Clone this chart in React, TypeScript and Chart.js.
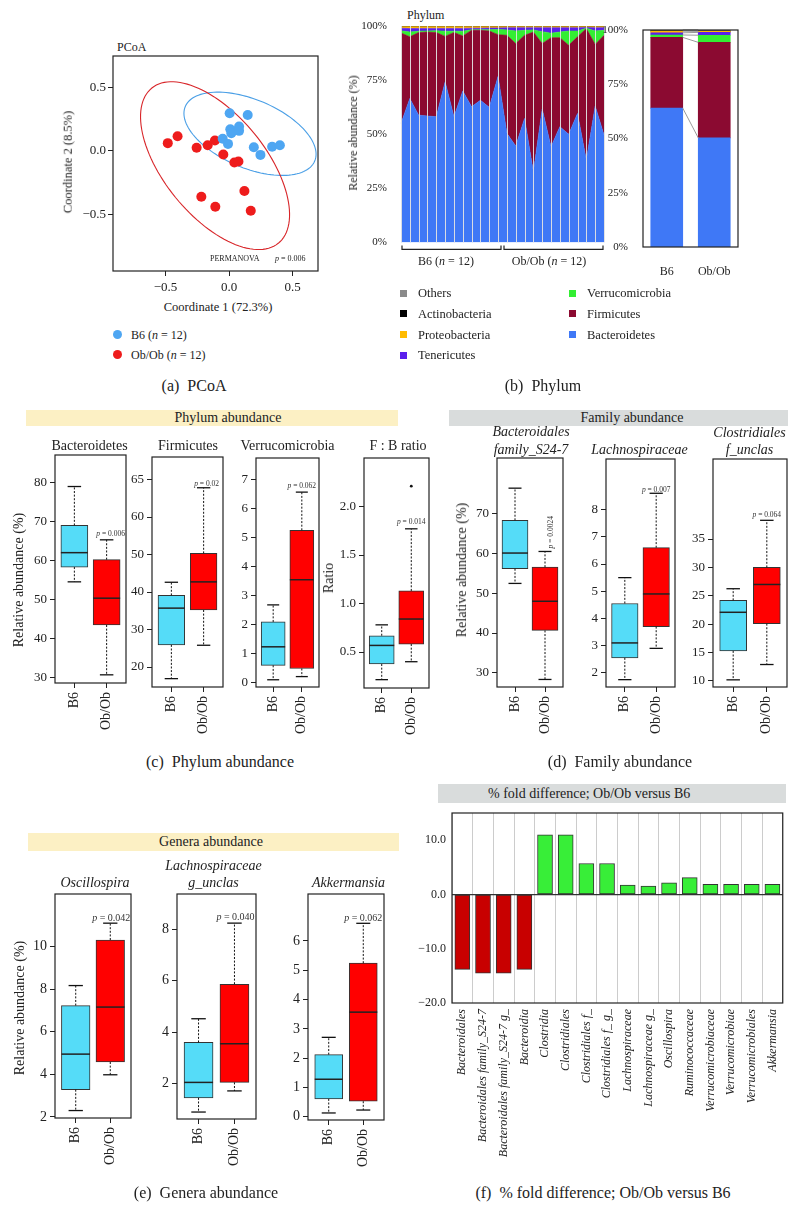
import React, { useEffect, useRef } from 'react';
import { Chart, registerables } from 'chart.js';

Chart.register(...registerables);

const SERIF = '"Liberation Serif", "Times New Roman", "DejaVu Serif", serif';
Chart.defaults.font.family = SERIF;
Chart.defaults.color = '#222';

/* ---------------- (a) PCoA ---------------- */
const pcoaB6X = [0.005, 0.147, 0.01, 0.079, 0.018, 0.079, -0.05, -0.008, 0.195, 0.247, 0.339, 0.4];
const pcoaB6Y = [0.297, 0.284, 0.171, 0.192, 0.139, 0.158, 0.095, 0.055, 0.029, -0.032, 0.032, 0.045];
const pcoaObX = [-0.482, -0.405, -0.255, -0.168, -0.111, -0.045, 0.042, 0.074, -0.218, -0.108, 0.121, 0.171];
const pcoaObY = [0.061, 0.116, 0.024, 0.045, 0.082, -0.029, -0.092, -0.084, -0.363, -0.442, -0.318, -0.474];
const pcoaTicks = [-0.5, 0, 0.5];
// confidence ellipses: centre x, centre y, semi-axis a, semi-axis b, angle (deg)
const ellipseB6 = [0.165, 0.135, 0.553, 0.27, -23];
const ellipseOb = [-0.11, -0.117, 0.79, 0.4, -51];

/* ---------------- (b) Phylum ---------------- */
const sampleLabels = [
  'B6-1', 'B6-2', 'B6-3', 'B6-4', 'B6-5', 'B6-6', 'B6-7', 'B6-8', 'B6-9', 'B6-10', 'B6-11', 'B6-12',
  'Ob-1', 'Ob-2', 'Ob-3', 'Ob-4', 'Ob-5', 'Ob-6', 'Ob-7', 'Ob-8', 'Ob-9', 'Ob-10', 'Ob-11', 'Ob-12',
];
const phylumNames = ['Bacteroidetes', 'Firmicutes', 'Verrucomicrobia', 'Tenericutes', 'Proteobacteria', 'Actinobacteria', 'Others'];
const phylumColors = ['#3f78f6', '#8b0a31', '#33ee33', '#5a1fec', '#ffbb00', '#000000', '#8a8a8a'];
const bacteroidetes = [55.0, 66.5, 58.8, 58.4, 58.1, 74.2, 58.1, 70.0, 62.7, 65.7, 62.4, 76.8, 50.4, 44.5, 57.3, 32.7, 61.6, 44.2, 53.5, 50.0, 59.6, 38.1, 63.0, 49.6];
const firmicutes = [41.8, 28.5, 38.2, 38.8, 38.9, 21.0, 38.9, 25.4, 35.3, 32.3, 35.3, 19.2, 45.3, 47.4, 38.4, 64.5, 30.3, 50.4, 41.1, 41.1, 35.4, 60.7, 28.5, 46.1];
const verrucomicrobia = [1.0, 2.2, 0.6, 0.5, 0.8, 2.4, 0.6, 2.2, 0.3, 0.3, 0.6, 2.4, 2.5, 5.8, 2.3, 1.0, 5.5, 2.1, 2.6, 6.6, 2.7, 0.2, 6.2, 2.3];
const tenericutes = [1.2, 1.6, 1.3, 1.2, 1.1, 1.3, 1.3, 1.3, 0.7, 0.7, 0.8, 0.7, 1.0, 1.5, 1.2, 1.0, 1.8, 2.5, 2.0, 1.5, 1.5, 0.3, 1.5, 1.2];
const proteobacteria = [0.7, 0.9, 0.8, 0.8, 0.8, 0.8, 0.8, 0.8, 0.7, 0.7, 0.6, 0.6, 0.5, 0.5, 0.5, 0.5, 0.5, 0.5, 0.5, 0.5, 0.5, 0.4, 0.5, 0.5];
const actinobacteria = [0.1, 0.1, 0.1, 0.1, 0.1, 0.1, 0.1, 0.1, 0.1, 0.1, 0.1, 0.1, 0.1, 0.1, 0.1, 0.1, 0.1, 0.1, 0.1, 0.1, 0.1, 0.1, 0.1, 0.1];
const otherPhyla = [0.2, 0.2, 0.2, 0.2, 0.2, 0.2, 0.2, 0.2, 0.2, 0.2, 0.2, 0.2, 0.2, 0.2, 0.2, 0.2, 0.2, 0.2, 0.2, 0.2, 0.2, 0.2, 0.2, 0.2];
const phylumSeries = [bacteroidetes, firmicutes, verrucomicrobia, tenericutes, proteobacteria, actinobacteria, otherPhyla];
const percentTicks = [0, 25, 50, 75, 100];

const groupLabels = ['B6', 'Ob/Ob'];
const groupBacteroidetes = [64.0, 50.3];
const groupFirmicutes = [32.6, 44.0];
const groupVerrucomicrobia = [1.1, 3.3];
const groupTenericutes = [1.0, 1.3];
const groupProteobacteria = [0.8, 0.5];
const groupActinobacteria = [0.1, 0.1];
const groupOthers = [0.4, 0.5];
const groupSeries = [groupBacteroidetes, groupFirmicutes, groupVerrucomicrobia, groupTenericutes, groupProteobacteria, groupActinobacteria, groupOthers];
const legendCol1 = ['Others', 'Actinobacteria', 'Proteobacteria', 'Tenericutes'];
const legendCol2 = ['Verrucomicrobia', 'Firmicutes', 'Bacteroidetes'];

/* ---------------- (c)(d)(e) box plots: [min, Q1, median, Q3, max] ---------------- */
const boxGroups = ['B6', 'Ob/Ob'];
const bacteroidetesB6 = [54.5, 58.3, 62.0, 69.0, 79.0];
const bacteroidetesOb = [30.6, 43.4, 50.3, 60.2, 65.3];
const firmicutesB6 = [16.9, 25.9, 35.7, 39.1, 42.6];
const firmicutesOb = [25.8, 35.2, 42.7, 50.3, 67.8];
const verrucoB6 = [0.08, 0.58, 1.22, 2.08, 2.67];
const verrucoOb = [0.19, 0.47, 3.54, 5.25, 6.57];
const fbRatioB6 = [0.215, 0.376, 0.568, 0.668, 0.78];
const fbRatioOb = [0.4, 0.582, 0.84, 1.13, 1.77];
const fbRatioOutlierOb = [2.21];
const s247B6 = [52.5, 56.2, 60.15, 68.4, 76.5];
const s247Ob = [28.3, 40.65, 48.0, 56.6, 60.55];
const lachnoB6 = [1.75, 2.55, 3.1, 4.55, 5.5];
const lachnoOb = [2.9, 3.7, 4.9, 6.6, 8.6];
const clostB6 = [10.2, 15.3, 22.1, 24.2, 26.25];
const clostOb = [12.9, 20.1, 27.0, 30.0, 38.3];
const oscilloB6 = [2.3, 3.28, 4.95, 7.23, 8.17];
const oscilloOb = [3.98, 4.58, 7.16, 10.31, 11.1];
const lachnoGB6 = [0.9, 1.45, 2.05, 3.6, 4.52];
const lachnoGOb = [1.72, 2.05, 3.55, 5.86, 8.23];
const akkB6 = [0.13, 0.61, 1.28, 2.12, 2.71];
const akkOb = [0.23, 0.53, 3.57, 5.24, 6.6];

const ticksBact = [30, 40, 50, 60, 70, 80];
const ticksFirm = [20, 30, 40, 50, 60, 70];
const labelsFirm = ['20', '30', '40', '50', '60', '65'];
const ticksVerr = [0, 1, 2, 3, 4, 5, 6, 7];
const ticksRatio = [0.5, 1, 1.5, 2];
const labelsRatio = ['0.5', '1.0', '1.5', '2.0'];
const ticksS247 = [30, 40, 50, 60, 70];
const ticksLachno = [2, 3, 4, 5, 6, 7, 8];
const ticksClost = [10, 15, 20, 25, 30, 35];
const ticksOscillo = [2, 4, 6, 8, 10];
const ticksLachnoG = [2, 4, 6, 8];
const ticksAkk = [0, 1, 2, 3, 4, 5, 6];

/* ---------------- (f) fold difference ---------------- */
const foldLabels = [
  'Bacteroidales', 'Bacteroidales family_S24-7', 'Bacteroidales family_S24-7 g_', 'Bacteroidia',
  'Clostridia', 'Clostridiales', 'Clostridiales f_', 'Clostridiales f_ g_', 'Lachnospiraceae',
  'Lachnospiraceae g_', 'Oscillospira', 'Ruminococcaceae', 'Verrucomicrobiaceae', 'Verrucomicrobiae',
  'Verrucomicrobiales', 'Akkermansia',
];
const foldValues = [-13.8, -14.5, -14.5, -13.8, 11.0, 11.0, 5.7, 5.7, 1.7, 1.55, 2.15, 3.1, 1.85, 1.85, 1.85, 1.85];
const foldTicks = [-20, -10, 0, 10];

/* ---------------- styles ---------------- */
const B6_BOX = '#55dcf8';
const OB_BOX = '#ff0000';
const PCOA_BLUE = '#4ea6f2';
const PCOA_RED = '#ee1c1c';
const YELLOW = '#fcf0c4';
const GREY = '#d9dcdc';
const FOLD_RED = '#c80000';
const FOLD_GREEN = '#38ee38';

const fmt1 = (v: number) => (v < 0 ? '\u2212' : '') + Math.abs(v).toFixed(1);

const framePlugin = {
  id: 'frame',
  afterDraw(chart: any) {
    const { ctx, chartArea: a } = chart;
    ctx.save();
    ctx.strokeStyle = '#222';
    ctx.lineWidth = 1.2;
    ctx.strokeRect(a.left, a.top, a.right - a.left, a.bottom - a.top);
    ctx.restore();
  },
};

function drawP(ctx: any, text: string, x: number, y: number, size: number, rotate: boolean) {
  const f1 = `italic ${size}px ${SERIF}`;
  const f2 = `${size}px ${SERIF}`;
  ctx.font = f1;
  const w1 = ctx.measureText('p').width;
  ctx.font = f2;
  const w2 = ctx.measureText(' ' + text).width;
  ctx.save();
  ctx.translate(x, y);
  if (rotate) ctx.rotate(-Math.PI / 2);
  const start = rotate ? 0 : -(w1 + w2) / 2;
  ctx.textAlign = 'left';
  ctx.textBaseline = rotate ? 'middle' : 'alphabetic';
  ctx.fillStyle = '#333';
  ctx.font = f1;
  ctx.fillText('p', start, 0);
  ctx.font = f2;
  ctx.fillText(' ' + text, start + w1, 0);
  ctx.restore();
}

function ChartBox({ left, top, width, height, make }: any) {
  const ref = useRef<HTMLCanvasElement>(null);
  useEffect(() => {
    const chart = new Chart(ref.current as HTMLCanvasElement, make());
    return () => chart.destroy();
  }, []);
  return (
    <canvas ref={ref} width={width} height={height} style={{ position: 'absolute', left, top, width, height }} />
  );
}

function Txt({ x, y, size = 14, italic = false, rotate = false, align = 'center', children }: any) {
  const tr = (align === 'center' ? 'translate(-50%,-50%)' : 'translate(0,-50%)') + (rotate ? ' rotate(-90deg)' : '');
  return (
    <div style={{ position: 'absolute', left: x, top: y, transform: tr, fontSize: size, fontStyle: italic ? 'italic' : 'normal', lineHeight: 1, whiteSpace: 'nowrap', color: '#222', fontFamily: SERIF }}>
      {children}
    </div>
  );
}

/* ---------------- PCoA ---------------- */
const PCOA = { L: 113, T: 56, R: 318, B: 271, AX: 40, PT: 14, PR: 6, XH: 26 };
function pcoaConfig() {
  const ellipses = [{ e: ellipseB6, color: '#4a9fe6' }, { e: ellipseOb, color: '#d8262a' }];
  const ellipsePlugin = {
    id: 'ellipses',
    beforeDatasetsDraw(chart: any) {
      const { ctx, scales: { x, y } } = chart;
      ctx.save();
      ellipses.forEach(({ e, color }) => {
        const [cx, cy, a, b, deg] = e;
        const th = (deg * Math.PI) / 180;
        ctx.beginPath();
        for (let k = 0; k <= 120; k++) {
          const t = (k / 120) * 2 * Math.PI;
          const dx = a * Math.cos(t);
          const dy = b * Math.sin(t);
          const px = x.getPixelForValue(cx + dx * Math.cos(th) - dy * Math.sin(th));
          const py = y.getPixelForValue(cy + dx * Math.sin(th) + dy * Math.cos(th));
          if (k === 0) ctx.moveTo(px, py); else ctx.lineTo(px, py);
        }
        ctx.closePath();
        ctx.strokeStyle = color;
        ctx.lineWidth = 1.1;
        ctx.stroke();
      });
      ctx.restore();
    },
  };
  const axisCommon = {
    type: 'linear',
    afterBuildTicks: (s: any) => { s.ticks = pcoaTicks.map((v) => ({ value: v })); },
    grid: { drawOnChartArea: false, tickLength: 5, color: '#222' },
    border: { display: false },
  };
  return {
    type: 'scatter',
    data: {
      datasets: [
        { data: pcoaB6X.map((x, i) => ({ x, y: pcoaB6Y[i] })), backgroundColor: PCOA_BLUE, pointRadius: 5, borderWidth: 0 },
        { data: pcoaObX.map((x, i) => ({ x, y: pcoaObY[i] })), backgroundColor: PCOA_RED, pointRadius: 5, borderWidth: 0 },
      ],
    },
    options: {
      animation: false,
      responsive: false,
      layout: { padding: { top: PCOA.PT, right: PCOA.PR, left: 0, bottom: 0 } },
      plugins: { legend: { display: false }, tooltip: { enabled: false } },
      scales: {
        x: { ...axisCommon, min: -0.913, max: 0.7, ticks: { callback: (v: number) => fmt1(v), font: { size: 13 }, padding: 4, maxRotation: 0 }, afterFit: (s: any) => { s.height = PCOA.XH; } },
        y: { ...axisCommon, min: -0.95, max: 0.75, ticks: { callback: (v: number) => fmt1(v), font: { size: 13 }, padding: 2 }, afterFit: (s: any) => { s.width = PCOA.AX; } },
      },
    },
    plugins: [ellipsePlugin, framePlugin],
  };
}

/* ---------------- Phylum stacked area ---------------- */
const STK = { L: 401, T: 26, R: 604, B: 243, AX: 44, PT: 14, PR: 4, PB: 12 };
function stackConfig() {
  const separatorPlugin = {
    id: 'separators',
    afterDatasetsDraw(chart: any) {
      const { ctx, chartArea: a, scales: { x } } = chart;
      ctx.save();
      ctx.strokeStyle = 'rgba(225,225,225,0.95)';
      ctx.lineWidth = 1;
      sampleLabels.forEach((_, i) => {
        const px = Math.round(x.getPixelForValue(i)) + 0.5;
        ctx.beginPath();
        ctx.moveTo(px, a.top);
        ctx.lineTo(px, a.bottom);
        ctx.stroke();
      });
      ctx.restore();
    },
  };
  const bracketPlugin = {
    id: 'brackets',
    afterDraw(chart: any) {
      const { ctx, chartArea: a, scales: { x } } = chart;
      const px = (i: number) => x.getPixelForValue(i);
      const mid = (px(11) + px(12)) / 2;
      const y0 = a.bottom + 7;
      const y1 = a.bottom + 3;
      ctx.save();
      ctx.strokeStyle = '#222';
      ctx.lineWidth = 1.2;
      [[px(0) + 1, mid - 1.5], [mid + 1.5, px(23) - 1]].forEach(([l, r]) => {
        ctx.beginPath();
        ctx.moveTo(l, y1);
        ctx.lineTo(l, y0);
        ctx.lineTo(r, y0);
        ctx.lineTo(r, y1);
        ctx.stroke();
      });
      ctx.restore();
    },
  };
  return {
    type: 'line',
    data: {
      labels: sampleLabels,
      datasets: phylumSeries.map((d, i) => ({
        label: phylumNames[i], data: d, backgroundColor: phylumColors[i], borderColor: phylumColors[i],
        borderWidth: 0.6, pointRadius: 0, fill: i === 0 ? 'origin' : '-1', tension: 0,
      })),
    },
    options: {
      animation: false,
      responsive: false,
      layout: { padding: { top: STK.PT, right: STK.PR, left: 0, bottom: STK.PB } },
      plugins: { legend: { display: false }, tooltip: { enabled: false } },
      scales: {
        x: { type: 'category', offset: false, grid: { display: false }, ticks: { display: false }, border: { display: false }, afterFit: (s: any) => { s.height = 0; } },
        y: {
          stacked: true, min: 0, max: 100,
          afterBuildTicks: (s: any) => { s.ticks = percentTicks.map((v) => ({ value: v })); },
          ticks: { callback: (v: number) => v + '%', font: { size: 11 }, padding: 6 },
          grid: { display: false }, border: { display: false },
          afterFit: (s: any) => { s.width = STK.AX; },
        },
      },
    },
    plugins: [separatorPlugin, bracketPlugin],
  };
}

/* ---------------- Phylum group bars ---------------- */
const GRP = { L: 643, T: 30, R: 738, B: 247, AX: 40, PT: 14, PR: 6, XH: 34 };
function groupConfig() {
  const connectPlugin = {
    id: 'connect',
    afterDatasetsDraw(chart: any) {
      const ctx = chart.ctx;
      ctx.save();
      ctx.strokeStyle = '#9a9a9a';
      ctx.lineWidth = 1;
      chart.data.datasets.forEach((_: any, d: number) => {
        const m = chart.getDatasetMeta(d);
        const a: any = m.data[0];
        const b: any = m.data[1];
        if (!a || !b) return;
        ctx.beginPath();
        ctx.moveTo(a.x + a.width / 2, a.y);
        ctx.lineTo(b.x - b.width / 2, b.y);
        ctx.stroke();
      });
      ctx.restore();
    },
  };
  return {
    type: 'bar',
    data: {
      labels: groupLabels,
      datasets: groupSeries.map((d, i) => ({ label: phylumNames[i], data: d, backgroundColor: phylumColors[i], borderWidth: 0, barThickness: 32 })),
    },
    options: {
      animation: false,
      responsive: false,
      layout: { padding: { top: GRP.PT, right: GRP.PR, left: 0, bottom: 0 } },
      plugins: { legend: { display: false }, tooltip: { enabled: false } },
      scales: {
        x: { stacked: true, grid: { display: false }, border: { display: false }, ticks: { font: { size: 12 }, padding: 10 }, afterFit: (s: any) => { s.height = GRP.XH; } },
        y: {
          stacked: true, min: 0, max: 100,
          afterBuildTicks: (s: any) => { s.ticks = percentTicks.map((v) => ({ value: v })); },
          ticks: { callback: (v: number) => v + '%', font: { size: 11 }, padding: 7 },
          grid: { display: false }, border: { display: false },
          afterFit: (s: any) => { s.width = GRP.AX; },
        },
      },
    },
    plugins: [connectPlugin, framePlugin],
  };
}

/* ---------------- Box plots ---------------- */
const BOX = { AX: 36, PT: 12, PR: 14, XH: 55 };
const boxPanels: any[] = [
  { key: 'bact', frame: [55, 455, 126, 683], range: [28.5, 87.1], ticks: ticksBact, b6: bacteroidetesB6, ob: bacteroidetesOb, boxW: 27, p: '= 0.006', pSize: 7.5, pGap: 4, pDx: 4, tick: 13 },
  { key: 'firm', frame: [152, 457, 223, 687], range: [14.67, 76], ticks: ticksFirm, labels: labelsFirm, b6: firmicutesB6, ob: firmicutesOb, boxW: 26.7, p: '= 0.02', pSize: 7.5, pGap: 2, pDx: 3, tick: 13 },
  { key: 'verr', frame: [256, 458, 319, 687], range: [-0.17, 7.75], ticks: ticksVerr, b6: verrucoB6, ob: verrucoOb, boxW: 24, p: '= 0.062', pSize: 7.5, pGap: 4, pDx: 0, tick: 13 },
  { key: 'ratio', frame: [364, 458, 429, 688], range: [0.129, 2.5], ticks: ticksRatio, labels: labelsRatio, b6: fbRatioB6, ob: fbRatioOb, out: fbRatioOutlierOb, boxW: 25, p: '= 0.014', pSize: 7.5, pGap: 5, pDx: 0, tick: 13 },
  { key: 's247', frame: [497, 458, 563, 687], range: [26.4, 84.1], ticks: ticksS247, b6: s247B6, ob: s247Ob, boxW: 26, p: '= 0.0024', pSize: 7.5, pGap: 3, pDx: 6, pRotate: true, tick: 13 },
  { key: 'lachno', frame: [606, 459, 675, 687], range: [1.48, 9.86], ticks: ticksLachno, b6: lachnoB6, ob: lachnoOb, boxW: 26.5, p: '= 0.007', pSize: 7.5, pGap: 1, pDx: 0, tick: 13 },
  { key: 'clost', frame: [713, 459, 787, 687], range: [8.94, 49.1], ticks: ticksClost, b6: clostB6, ob: clostOb, boxW: 27, p: '= 0.064', pSize: 7.5, pGap: 3, pDx: 0, tick: 13 },
  { key: 'oscillo', frame: [55, 894, 131, 1118], range: [1.95, 12.47], ticks: ticksOscillo, b6: oscilloB6, ob: oscilloOb, boxW: 28.6, p: '= 0.042', pSize: 10, pGap: 2, pDx: 1, tick: 14 },
  { key: 'lachnoG', frame: [177, 894, 256, 1119], range: [0.63, 9.36], ticks: ticksLachnoG, b6: lachnoGB6, ob: lachnoGOb, boxW: 29, p: '= 0.040', pSize: 10, pGap: 3, pDx: 1, tick: 14 },
  { key: 'akk', frame: [308, 894, 384, 1120], range: [-0.11, 7.6], ticks: ticksAkk, b6: akkB6, ob: akkOb, boxW: 28, p: '= 0.062', pSize: 10, pGap: 2, pDx: 0, tick: 14 },
];

function boxConfig(s: any) {
  const boxPlugin = {
    id: 'box_' + s.key,
    afterDatasetsDraw(chart: any) {
      const { ctx, scales: { x, y } } = chart;
      const Y = (v: number) => y.getPixelForValue(v);
      const line = (x1: number, y1: number, x2: number, y2: number) => {
        ctx.beginPath();
        ctx.moveTo(x1, y1);
        ctx.lineTo(x2, y2);
        ctx.stroke();
      };
      ctx.save();
      [s.b6, s.ob].forEach((st: number[], i: number) => {
        const cx = x.getPixelForValue(i);
        const half = s.boxW / 2;
        const cap = s.boxW * 0.25;
        ctx.strokeStyle = '#111';
        ctx.lineWidth = 1;
        ctx.setLineDash([2, 1.6]);
        line(cx, Y(st[3]), cx, Y(st[4]));
        line(cx, Y(st[1]), cx, Y(st[0]));
        ctx.setLineDash([]);
        ctx.lineWidth = 1.3;
        line(cx - cap, Y(st[4]), cx + cap, Y(st[4]));
        line(cx - cap, Y(st[0]), cx + cap, Y(st[0]));
        ctx.lineWidth = 1.5;
        ctx.strokeStyle = '#222';
        line(cx - half, Y(st[2]), cx + half, Y(st[2]));
      });
      if (s.out) {
        ctx.fillStyle = '#111';
        s.out.forEach((v: number) => {
          ctx.beginPath();
          ctx.arc(x.getPixelForValue(1), Y(v), 1.4, 0, Math.PI * 2);
          ctx.fill();
        });
      }
      drawP(ctx, s.p, x.getPixelForValue(1) + s.pDx, Y(s.ob[4]) - s.pGap, s.pSize, !!s.pRotate);
      ctx.restore();
    },
  };
  return {
    type: 'bar',
    data: {
      datasets: [{
        data: [{ x: 0, y: [s.b6[1], s.b6[3]] }, { x: 1, y: [s.ob[1], s.ob[3]] }],
        backgroundColor: [B6_BOX, OB_BOX], borderColor: '#333', borderWidth: 1, borderSkipped: false, barThickness: s.boxW,
      }],
    },
    options: {
      animation: false,
      responsive: false,
      layout: { padding: { top: BOX.PT, right: BOX.PR, left: 0, bottom: 0 } },
      plugins: { legend: { display: false }, tooltip: { enabled: false } },
      scales: {
        x: {
          type: 'linear', min: -0.6, max: 1.6, offset: false,
          afterBuildTicks: (sc: any) => { sc.ticks = [{ value: 0 }, { value: 1 }]; },
          ticks: { callback: (v: number) => boxGroups[v], minRotation: 90, maxRotation: 90, font: { size: 14 }, padding: 4 },
          grid: { offset: false, drawOnChartArea: false, tickLength: 5, color: '#222' },
          border: { display: false },
          afterFit: (sc: any) => { sc.height = BOX.XH; },
        },
        y: {
          min: s.range[0], max: s.range[1],
          afterBuildTicks: (sc: any) => { sc.ticks = s.ticks.map((v: number) => ({ value: v })); },
          ticks: { callback: (v: number, i: number) => (s.labels ? s.labels[i] : String(v)), font: { size: s.tick }, padding: 3 },
          grid: { drawOnChartArea: false, tickLength: 5, color: '#222' },
          border: { display: false },
          afterFit: (sc: any) => { sc.width = BOX.AX; },
        },
      },
    },
    plugins: [boxPlugin, framePlugin],
  };
}

/* ---------------- Fold difference ---------------- */
const FOLD = { L: 452, T: 813, R: 787, B: 1003, AX: 40, PT: 14, PR: 6, XH: 180 };
function foldConfig() {
  return {
    type: 'bar',
    data: {
      labels: foldLabels,
      datasets: [{
        data: foldValues, backgroundColor: foldValues.map((v) => (v < 0 ? FOLD_RED : FOLD_GREEN)),
        borderColor: '#333', borderWidth: 1, borderSkipped: false, barThickness: 15,
      }],
    },
    options: {
      animation: false,
      responsive: false,
      layout: { padding: { top: FOLD.PT, right: FOLD.PR, left: 0, bottom: 0 } },
      plugins: { legend: { display: false }, tooltip: { enabled: false } },
      scales: {
        x: {
          offset: true, grid: { offset: true, color: '#cccccc', drawTicks: false }, border: { display: false },
          ticks: { autoSkip: false, minRotation: 90, maxRotation: 90, font: { size: 12, style: 'italic' }, padding: 6 },
          afterFit: (s: any) => { s.height = FOLD.XH; },
        },
        y: {
          min: -20, max: 15,
          afterBuildTicks: (s: any) => { s.ticks = foldTicks.map((v) => ({ value: v })); },
          ticks: { callback: (v: number) => fmt1(v), font: { size: 12 }, padding: 6 },
          grid: { color: (c: any) => (c.tick && c.tick.value === 0 ? '#333' : 'rgba(0,0,0,0)'), lineWidth: 1.2, drawTicks: false },
          border: { display: false },
          afterFit: (s: any) => { s.width = FOLD.AX; },
        },
      },
    },
    plugins: [framePlugin],
  };
}

function rectFor(g: any, xh: number, pb = 0) {
  return {
    left: g.L - g.AX,
    top: g.T - g.PT,
    width: g.AX + (g.R - g.L) + g.PR,
    height: g.PT + (g.B - g.T) + xh + pb,
  };
}

export default function App() {
  return (
    <div style={{ position: 'absolute', left: 0, top: 0, width: 799, height: 1227, background: '#fff', overflow: 'hidden', fontFamily: SERIF, color: '#222' }}>
      {/* (a) PCoA */}
      <Txt x={117} y={47} size={12} align="left">PCoA</Txt>
      <ChartBox {...rectFor(PCOA, PCOA.XH)} make={pcoaConfig} />
      <Txt x={68} y={162} size={12.5} rotate>Coordinate 2 (8.5%)</Txt>
      <Txt x={218} y={306.5} size={12.5}>Coordinate 1 (72.3%)</Txt>
      <Txt x={210} y={258.5} size={8} align="left">PERMANOVA</Txt>
      <Txt x={275} y={258.5} size={8} align="left"><i>p</i> = 0.006</Txt>
      <div style={{ position: 'absolute', left: 112.5, top: 330, width: 9, height: 9, borderRadius: '50%', background: PCOA_BLUE }} />
      <Txt x={131} y={334.5} size={12} align="left">B6 (<i>n</i> = 12)</Txt>
      <div style={{ position: 'absolute', left: 112.5, top: 350, width: 9, height: 9, borderRadius: '50%', background: PCOA_RED }} />
      <Txt x={131} y={354.5} size={12} align="left">Ob/Ob (<i>n</i> = 12)</Txt>
      <Txt x={194} y={386} size={16}>(a)&nbsp;&nbsp;PCoA</Txt>

      {/* (b) Phylum */}
      <Txt x={407} y={15} size={12} align="left">Phylum</Txt>
      <ChartBox {...rectFor(STK, 0, STK.PB)} make={stackConfig} />
      <Txt x={353} y={133} size={12} rotate>Relative abundance (%)</Txt>
      <Txt x={446} y={261} size={12}>B6 (<i>n</i> = 12)</Txt>
      <Txt x={549} y={261} size={12}>Ob/Ob (<i>n</i> = 12)</Txt>
      <ChartBox {...rectFor(GRP, GRP.XH)} make={groupConfig} />
      {legendCol1.map((name, i) => (
        <React.Fragment key={name}>
          <div style={{ position: 'absolute', left: 400, top: 293.3 + i * 20.6 - 3.5, width: 7, height: 7, background: phylumColors[phylumNames.indexOf(name)] }} />
          <Txt x={418} y={293.3 + i * 20.6} size={12.5} align="left">{name}</Txt>
        </React.Fragment>
      ))}
      {legendCol2.map((name, i) => (
        <React.Fragment key={name}>
          <div style={{ position: 'absolute', left: 569, top: 293.3 + i * 20.6 - 3.5, width: 7, height: 7, background: phylumColors[phylumNames.indexOf(name)] }} />
          <Txt x={587} y={293.3 + i * 20.6} size={12.5} align="left">{name}</Txt>
        </React.Fragment>
      ))}
      <Txt x={543} y={386} size={16}>(b)&nbsp;&nbsp;Phylum</Txt>

      {/* banners */}
      <div style={{ position: 'absolute', left: 26, top: 410, width: 372, height: 16, background: YELLOW }} />
      <Txt x={228} y={418} size={14}>Phylum abundance</Txt>
      <div style={{ position: 'absolute', left: 449, top: 410, width: 339, height: 16, background: GREY }} />
      <Txt x={632} y={418} size={14}>Family abundance</Txt>

      {/* box plots */}
      {boxPanels.map((s) => {
        const [L, T, R, B] = s.frame;
        return (
          <ChartBox key={s.key} left={L - BOX.AX} top={T - BOX.PT} width={BOX.AX + (R - L) + BOX.PR} height={BOX.PT + (B - T) + BOX.XH} make={() => boxConfig(s)} />
        );
      })}

      {/* (c) titles */}
      <Txt x={89.5} y={446}>Bacteroidetes</Txt>
      <Txt x={188} y={446}>Firmicutes</Txt>
      <Txt x={287.5} y={446}>Verrucomicrobia</Txt>
      <Txt x={398} y={446}>F : B ratio</Txt>
      <Txt x={18.5} y={580} rotate>Relative abundance (%)</Txt>
      <Txt x={329} y={578} rotate>Ratio</Txt>
      <Txt x={220} y={762} size={16}>(c)&nbsp;&nbsp;Phylum abundance</Txt>

      {/* (d) titles */}
      <Txt x={531} y={431.5} italic>Bacteroidales</Txt>
      <Txt x={531} y={450} italic>family_S24-7</Txt>
      <Txt x={639.5} y={450} italic>Lachnospiraceae</Txt>
      <Txt x={749.5} y={433} italic>Clostridiales</Txt>
      <Txt x={749.5} y={450} italic>f_unclas</Txt>
      <Txt x={462} y={570} rotate>Relative abundance (%)</Txt>
      <Txt x={620} y={762} size={16}>(d)&nbsp;&nbsp;Family abundance</Txt>

      {/* (e) */}
      <div style={{ position: 'absolute', left: 28, top: 833, width: 371, height: 17.5, background: YELLOW }} />
      <Txt x={211} y={842} size={14}>Genera abundance</Txt>
      <Txt x={95} y={882.5} italic>Oscillospira</Txt>
      <Txt x={213.5} y={865.5} italic>Lachnospiraceae</Txt>
      <Txt x={213.5} y={883} italic>g_unclas</Txt>
      <Txt x={348.5} y={882.5} italic>Akkermansia</Txt>
      <Txt x={20} y={1008} rotate>Relative abundance (%)</Txt>
      <Txt x={206} y={1193} size={16}>(e)&nbsp;&nbsp;Genera abundance</Txt>

      {/* (f) */}
      <div style={{ position: 'absolute', left: 438, top: 784, width: 348, height: 18.5, background: GREY }} />
      <Txt x={488} y={793.5} size={14} align="left">% fold difference; Ob/Ob versus B6</Txt>
      <ChartBox {...rectFor(FOLD, FOLD.XH)} make={foldConfig} />
      <Txt x={603} y={1193} size={16}>(f)&nbsp;&nbsp;% fold difference; Ob/Ob versus B6</Txt>
    </div>
  );
}
